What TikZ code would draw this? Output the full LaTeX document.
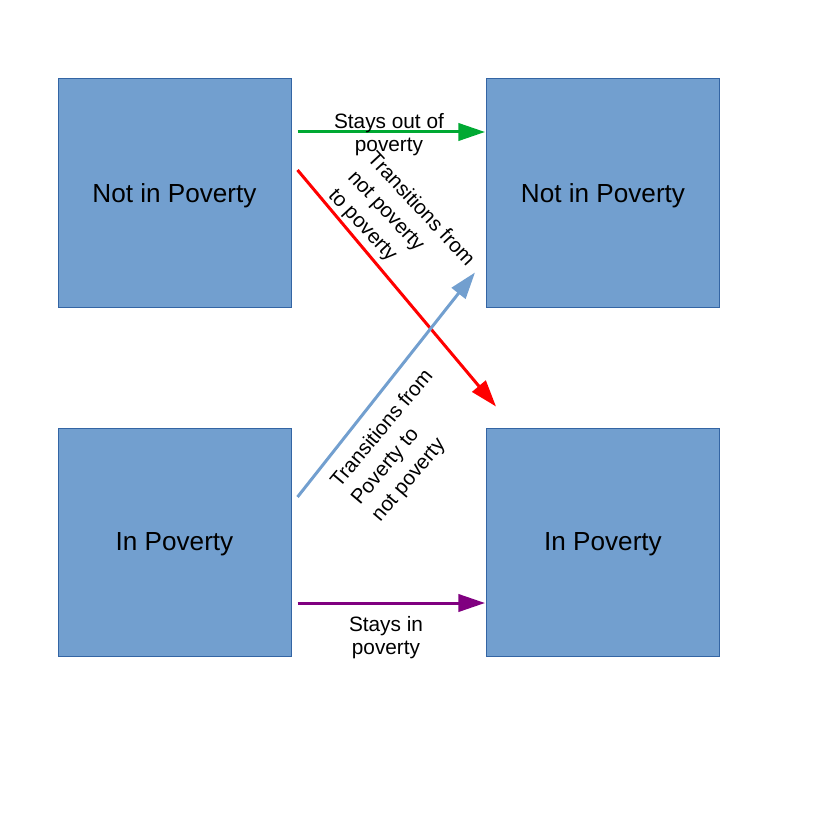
\documentclass[tikz,border=0pt]{standalone}
\usepackage{fontspec}
\setmainfont{Liberation Sans}
\usetikzlibrary{arrows.meta}
\definecolor{boxblue}{HTML}{729FCF}
\definecolor{boxline}{HTML}{3465A4}
\definecolor{stayout}{HTML}{00A933}
\definecolor{stayin}{HTML}{800080}
\tikzset{
  statebox/.style={draw=boxline,fill=boxblue,line width=0.75pt,minimum width=174.75pt,minimum height=171pt,inner sep=0pt,text depth=0pt,font=\fontsize{19.6}{23}\selectfont},
  flow/.style={line width=2.25pt,-{Triangle[length=20pt,width=13pt]}},
  flowlabel/.style={font=\fontsize{15.6}{17.3}\selectfont,inner sep=0pt},
  slantlabel/.style={flowlabel,align=left,font=\fontsize{15.4}{20}\selectfont}
}
\begin{document}
\begin{tikzpicture}[x=0.75pt,y=-0.75pt]
\useasboundingbox (0,0) rectangle (816,816);
% the four states
\node[statebox] (notpov1) at (174.5,193) {Not in Poverty};
\node[statebox] (notpov2) at (603,193) {Not in Poverty};
\node[statebox] (pov1) at (174.5,542) {In Poverty};
\node[statebox] (pov2) at (603,542) {In Poverty};
% transitions
\draw[flow,stayout] ([shift={(6,-61)}]notpov1.east) -- ([shift={(-1,-61)}]notpov2.west);
\draw[flow,red] ([shift={(6,-23)}]notpov1.east) -- ([shift={(10,-21)}]pov2.north west);
\draw[flow,boxblue] ([shift={(6,-45)}]pov1.east) -- ([shift={(-11,-35)}]notpov2.south west);
\draw[flow,stayin] ([shift={(6,61)}]pov1.east) -- ([shift={(-1,61)}]pov2.west);
% labels
\node[flowlabel,align=center] (outlbl) at (389,135) {Stays out of\\poverty};
\node[slantlabel,rotate=-47] (tolbl) at (401,228) {Transitions from\\not poverty\\to poverty};
\node[slantlabel,rotate=50] (fromlbl) at (403,446) {Transitions from\\Poverty to\\not poverty};
\node[flowlabel,align=center] (inlbl) at (386,638) {Stays in\\poverty};
\end{tikzpicture}
\end{document}
